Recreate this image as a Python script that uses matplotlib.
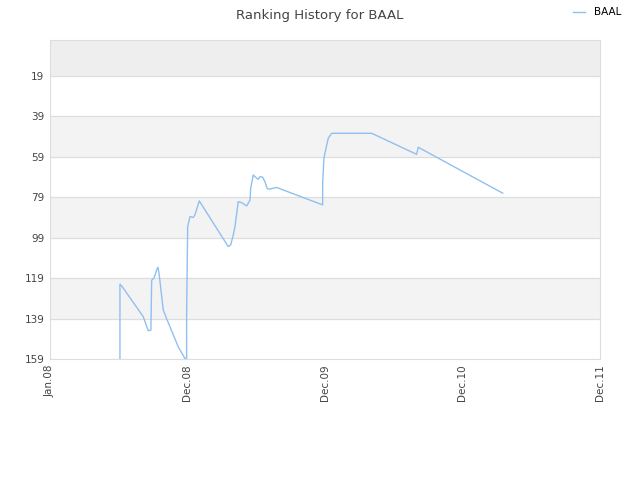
import matplotlib.pyplot as plt
from matplotlib.lines import Line2D

# months since Jan.08 (ticks are drawn one "year" apart)
months = [6.11, 6.11, 6.28, 8.14, 8.58, 8.81, 8.88, 9.08, 9.31, 9.43, 9.54,
          9.89, 10.18, 11.2, 11.78, 11.93, 11.93, 12.02, 12.22, 12.51, 12.65,
          13.03, 15.56, 15.77, 16.0, 16.15, 16.43, 16.73, 17.17, 17.46, 17.52,
          17.74, 18.04, 18.18, 18.33, 18.56, 18.76, 18.97, 19.2, 19.44, 19.79,
          23.8, 23.8, 23.91, 24.06, 24.29, 24.59, 28.08, 32.0, 32.14, 39.51]
ranks = [159, 122, 123, 138, 145, 144.7, 120, 119, 115, 113.6, 117.5,
         134.8, 139, 153, 158.7, 158.7, 135.6, 93.5, 88.6, 89, 87.8,
         80.8, 103.4, 102.6, 97.7, 93.5, 81.2, 81.7, 83.3, 80.4, 74.6,
         68, 69.6, 70.1, 68.8, 69.1, 71.3, 74.8, 75, 74.6, 74.2,
         82.8, 72.1, 59.7, 55.6, 49.8, 47.4, 47.4, 57.8, 54.3, 77]

tick_pos = [0, 12, 24, 36, 48]
tick_labels = ["Jan.08", "Dec.08", "Dec.09", "Dec.10", "Dec.11"]
y_ticks = [19, 39, 59, 79, 99, 119, 139, 159]

line_color = "#8fc0f2"

fig = plt.figure(figsize=(6.4, 4.8), dpi=100)
ax = fig.add_axes([0.078, 0.252, 0.8595, 0.665])

# alternating bands
ax.axhspan(1.2, 19, color="#eeeeee", zorder=0)
for lo in [39, 79, 119]:
    ax.axhspan(lo, lo + 20, color="#f3f3f3", zorder=0)
for y in y_ticks:
    ax.axhline(y, color="#dddddd", linewidth=0.8, zorder=1)

ax.plot(months, ranks, color=line_color, linewidth=1, zorder=3)

ax.set_xlim(0, 48)
ax.set_ylim(159, 1.2)
ax.set_xticks(tick_pos)
ax.set_xticklabels(tick_labels, rotation=90, fontsize=7.5, color="#444444")
ax.set_yticks(y_ticks)
ax.set_yticklabels([str(v) for v in y_ticks], fontsize=7.5, color="#444444")
ax.tick_params(length=0, pad=4)
for s in ax.spines.values():
    s.set_color("#dddddd")

fig.text(0.5, 0.967, "Ranking History for BAAL", ha="center", va="center",
         fontsize=9.5, color="#444444")
handle = Line2D([], [], color=line_color, linewidth=1)
fig.legend([handle], ["BAAL"], loc="center right", bbox_to_anchor=(0.985, 0.974),
           frameon=False, fontsize=7.5, handlelength=1.2, handletextpad=0.8)

fig.savefig("out.png", dpi=100)
